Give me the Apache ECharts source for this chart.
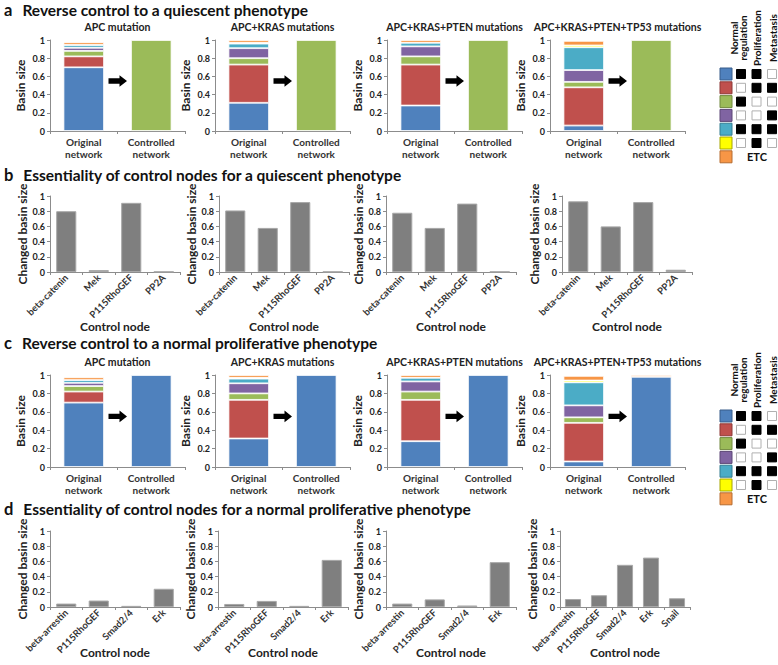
<!DOCTYPE html>
<html>
<head>
<meta charset="utf-8">
<script src="https://cdn.jsdelivr.net/npm/echarts@6/dist/echarts.min.js"></script>
<style>html,body{margin:0;padding:0;background:#fff;}#c{width:778px;height:665px;}</style>
</head>
<body>
<div id="c"></div>
<script>
// ---------- data ----------
const stateColors = ['#4F81BD', '#C0504D', '#9BBB59', '#8064A2', '#4BACC6', '#FFFF00', '#F79646'];
const stateBorders = ['#385D8A', '#8C3836', '#71893F', '#5C4776', '#357D91', '#A6A600', '#B66D31'];
const networkCategories = ['Original\nnetwork', 'Controlled\nnetwork'];
const mutationTitles = ['APC mutation', 'APC+KRAS mutations', 'APC+KRAS+PTEN mutations', 'APC+KRAS+PTEN+TP53 mutations'];

// basin sizes of attractor states (blue, red, green, purple, cyan, yellow, orange)
const basinAPC = [0.70, 0.12, 0.06, 0.035, 0.03, 0.0, 0.03];
const basinAPC_KRAS = [0.31, 0.42, 0.07, 0.11, 0.05, 0.01, 0.03];
const basinAPC_KRAS_PTEN = [0.28, 0.45, 0.09, 0.11, 0.04, 0.0, 0.03];
const basinAPC_KRAS_PTEN_TP53 = [0.06, 0.42, 0.06, 0.13, 0.25, 0.02, 0.05];
const originalBasins = [basinAPC, basinAPC_KRAS, basinAPC_KRAS_PTEN, basinAPC_KRAS_PTEN_TP53];

const quiescentControlled = [0, 0, 1, 0, 0, 0, 0];
const quiescentControlledTP53 = [0, 0, 1, 0, 0, 0, 0];
const proliferativeControlled = [1, 0, 0, 0, 0, 0, 0];
const proliferativeControlledTP53 = [0.98, 0, 0, 0, 0, 0, 0.02];

const quiescentControlNodes = ['beta-catenin', 'Mek', 'P115RhoGEF', 'PP2A'];
const essQ_APC = [0.80, 0.025, 0.91, 0.005];
const essQ_APC_KRAS = [0.81, 0.58, 0.92, 0.005];
const essQ_APC_KRAS_PTEN = [0.78, 0.58, 0.90, 0.005];
const essQ_APC_KRAS_PTEN_TP53 = [0.93, 0.60, 0.92, 0.03];

const proliferativeControlNodes = ['beta-arrestin', 'P115RhoGEF', 'Smad2/4', 'Erk'];
const proliferativeControlNodesTP53 = ['beta-arrestin', 'P115RhoGEF', 'Smad2/4', 'Erk', 'Snail'];
const essP_APC = [0.045, 0.085, 0.015, 0.24];
const essP_APC_KRAS = [0.04, 0.08, 0.015, 0.62];
const essP_APC_KRAS_PTEN = [0.045, 0.10, 0.02, 0.59];
const essP_APC_KRAS_PTEN_TP53 = [0.105, 0.155, 0.555, 0.65, 0.115];

const normalRegulation = [1, 0, 1, 0, 1, 0];
const proliferation = [1, 1, 0, 0, 1, 1];
const metastasis = [0, 1, 0, 1, 1, 0];

const yTicks = [0, 0.2, 0.4, 0.6, 0.8, 1];

// ---------- layout ----------
const FONT = 'Lato';
const panels = [
  { top: 40, height: 91, lefts: [50, 215, 387, 550], width: 135 },                 // a
  { top: 196, height: 76, lefts: [50, 219, 386, 562], width: 130, nameGap: 48 },   // b
  { top: 375, height: 92, lefts: [50, 215, 387, 550], width: 135 },                // c
  { top: 531, height: 76, lefts: [50, 218, 386, 560], width: 130, nameGap: 39 }    // d
];
const axisColor = '#8c8c8c';

const grids = [], xAxes = [], yAxes = [], series = [], titles = [];

function yAxisFor(g, name) {
  return {
    gridIndex: g, type: 'value', min: 0, max: 1, interval: 0.2,
    name: name, nameLocation: 'middle', nameGap: name === 'Basin size' ? 24 : 22, nameMoveOverlap: false,
    nameTextStyle: { fontFamily: FONT, fontSize: 12, fontWeight: 'bold', color: '#222' },
    axisLine: { show: true, lineStyle: { color: axisColor } },
    axisTick: { show: true, length: 3, lineStyle: { color: axisColor } },
    splitLine: { show: false },
    axisLabel: { fontFamily: FONT, fontSize: 9, fontWeight: 'bold', color: '#222', margin: 5,
      formatter: v => String(yTicks.find(t => Math.abs(t - v) < 1e-9) ?? v) }
  };
}

panels.forEach((p, pi) => {
  p.lefts.forEach((l, k) => {
    const g = grids.length;
    grids.push({ left: l, top: p.top, width: p.width, height: p.height, containLabel: false, outerBoundsMode: 'none' });
    if (pi === 0 || pi === 2) {
      xAxes.push({
        gridIndex: g, type: 'category', data: networkCategories,
        axisLine: { lineStyle: { color: axisColor } },
        axisTick: { show: true, length: 3, lineStyle: { color: axisColor } },
        axisLabel: { fontFamily: FONT, fontSize: 10, fontWeight: 'bold', color: '#333', lineHeight: 12, margin: 5 }
      });
      yAxes.push(yAxisFor(g, 'Basin size'));
      const orig = originalBasins[k];
      const ctrl = pi === 0 ? (k === 3 ? quiescentControlledTP53 : quiescentControlled)
                            : (k === 3 ? proliferativeControlledTP53 : proliferativeControlled);
      stateColors.forEach((c, si) => {
        series.push({
          type: 'bar', xAxisIndex: g, yAxisIndex: g, stack: 'st' + g, barWidth: '60%',
          data: [orig[si] || '-', ctrl[si] || '-'],
          itemStyle: { color: c, borderColor: '#ffffff', borderWidth: 0.8 },
          silent: true
        });
      });
      titles.push({
        text: mutationTitles[k], left: l + p.width / 2, top: p.top - 19, textAlign: 'center', padding: 0,
        textStyle: { fontFamily: FONT, fontSize: 10.5, fontWeight: 'bold', color: '#222' }
      });
    } else {
      const cats = pi === 1 ? quiescentControlNodes : (k === 3 ? proliferativeControlNodesTP53 : proliferativeControlNodes);
      const vals = pi === 1 ? [essQ_APC, essQ_APC_KRAS, essQ_APC_KRAS_PTEN, essQ_APC_KRAS_PTEN_TP53][k]
                            : [essP_APC, essP_APC_KRAS, essP_APC_KRAS_PTEN, essP_APC_KRAS_PTEN_TP53][k];
      xAxes.push({
        gridIndex: g, type: 'category', data: cats,
        name: 'Control node', nameLocation: 'middle', nameGap: p.nameGap, nameMoveOverlap: false,
        nameTextStyle: { fontFamily: FONT, fontSize: 12, fontWeight: 'bold', color: '#222', verticalAlign: 'top' },
        axisLine: { lineStyle: { color: axisColor } },
        axisTick: { show: true, length: 3, lineStyle: { color: axisColor } },
        axisLabel: { fontFamily: FONT, fontSize: 9.5, fontWeight: 'bold', color: '#333', rotate: 45, interval: 0, margin: 4 }
      });
      yAxes.push(yAxisFor(g, 'Changed basin size'));
      series.push({
        type: 'bar', xAxisIndex: g, yAxisIndex: g, barWidth: '62%', data: vals,
        itemStyle: { color: '#7f7f7f', borderColor: '#a8a8a8', borderWidth: 1 }, silent: true
      });
    }
  });
});

const panelTitles = [
  ['a', 'Reverse control to a quiescent phenotype', 1],
  ['b', 'Essentiality of control nodes for a quiescent phenotype', 166],
  ['c', 'Reverse control to a normal proliferative phenotype', 334],
  ['d', 'Essentiality of control nodes for a normal proliferative phenotype', 500]
];
panelTitles.forEach(([letter, text, top]) => {
  titles.push({
    text: '{l|' + letter + '}  {t|' + text + '}', left: 4, top: top, padding: 0,
    textStyle: { rich: {
      l: { fontFamily: FONT, fontSize: 16.5, fontWeight: 'bold', color: '#111' },
      t: { fontFamily: FONT, fontSize: 15.5, fontWeight: 'bold', color: '#111' }
    } }
  });
});

const chart = echarts.init(document.getElementById('c'), null, { renderer: 'svg' });
chart.setOption({
  animation: false, backgroundColor: '#fff',
  title: titles, grid: grids, xAxis: xAxes, yAxis: yAxes, series: series
});

// ---------- graphic: arrows + legend tables ----------
const graphics = [];
[0, 1, 2, 3, 8, 9, 10, 11].forEach(g => {
  const p0 = chart.convertToPixel({ xAxisIndex: g, yAxisIndex: g }, [networkCategories[0], 0.55]);
  const p1 = chart.convertToPixel({ xAxisIndex: g, yAxisIndex: g }, [networkCategories[1], 0.55]);
  const cx = (p0[0] + p1[0]) / 2, cy = p0[1];
  graphics.push({
    type: 'polygon', x: cx, y: cy,
    shape: { points: [[-9, -2.7], [2, -2.7], [2, -5.8], [9.5, 0], [2, 5.8], [2, 2.7], [-9, 2.7]] },
    style: { fill: '#000' }, silent: true
  });
});

function legendTable(firstRowY, headerCenterY) {
  const rowH = 13.8;
  const cols = [741, 756.5, 772];
  stateColors.forEach((c, i) => {
    const y = firstRowY + i * rowH;
    graphics.push({ type: 'rect', shape: { x: 720, y: y - 6, width: 12, height: 12 },
      style: { fill: c, stroke: stateBorders[i], lineWidth: 1 }, silent: true });
    if (i < normalRegulation.length) {
      [normalRegulation, proliferation, metastasis].forEach((arr, j) => {
        graphics.push({ type: 'rect', shape: { x: cols[j] - 4.5, y: y - 4.5, width: 9, height: 9 },
          style: { fill: arr[i] ? '#000' : '#fff', stroke: arr[i] ? '#000' : '#b0b0b0', lineWidth: 1 }, silent: true });
      });
    }
  });
  graphics.push({ type: 'text', x: 757, y: firstRowY + 6 * rowH,
    style: { text: 'ETC', fontFamily: FONT, fontSize: 11, fontWeight: 'bold', fill: '#111', align: 'center', verticalAlign: 'middle' } });
  const hdr = [['Normal\nregulation', 738], ['Proliferation', 756.5], ['Metastasis', 772.5]];
  hdr.forEach(([t, x]) => {
    graphics.push({ type: 'text', x: x, y: headerCenterY, rotation: Math.PI / 2,
      style: { text: t, fontFamily: FONT, fontSize: 10, fontWeight: 'bold', fill: '#111',
        align: 'center', verticalAlign: 'middle', lineHeight: 9 } });
  });
}
legendTable(74, 38);
legendTable(416, 380);

chart.setOption({ graphic: graphics });
</script>
</body>
</html>
